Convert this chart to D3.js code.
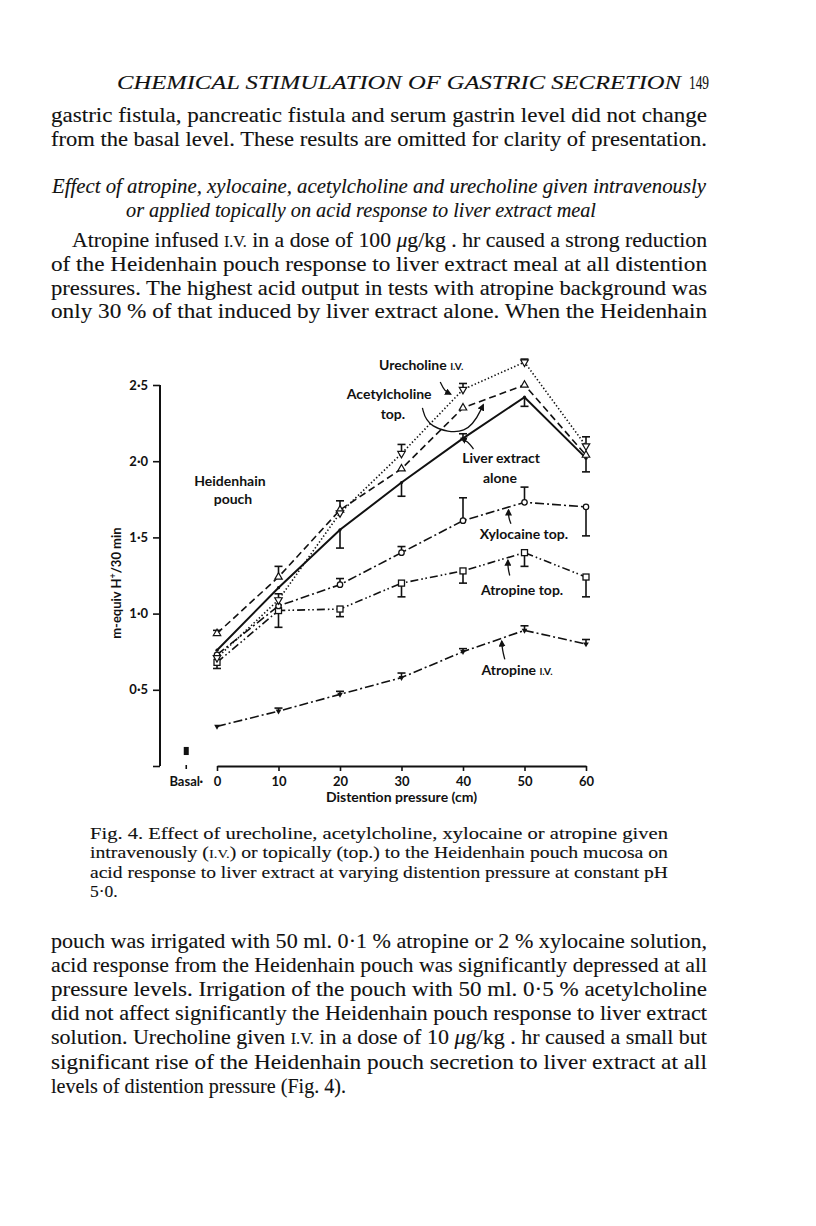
<!DOCTYPE html>
<html>
<head>
<meta charset="utf-8">
<script src="https://cdn.jsdelivr.net/npm/d3@7"></script>
<style>
  body { margin: 0; background: #fff; }
  text { fill: #111; }
  .serif { font-family: 'Liberation Serif', 'Times New Roman', serif; stroke: #111; stroke-width: 0.12px; }
  .sans { font-family: Lato, 'Open Sans', sans-serif; font-weight: 700; }
</style>
</head>
<body>
<svg width="816" height="1226"></svg>
<script>
// distention pressure (cm)
var pressure = [0, 10, 20, 30, 40, 50, 60];

// acid output, m-equiv H+/30 min
var liverExtract   = [0.76, 1.17, 1.55, 1.86, 2.15, 2.42, 2.02];
var liverErr       = [null, null, 1.43, 1.77, 2.18, 2.36, 1.93];
var acetylTop      = [0.87, 1.24, 1.68, 1.95, 2.35, 2.50, 2.04];
var acetylErr      = [0.89, 1.31, null, null, null, null, null];
var urecholineIV   = [0.71, 1.09, 1.66, 2.05, 2.47, 2.65, 2.10];
var urecholineErr  = [null, 1.13, 1.74, 2.11, 2.51, 2.67, 2.16];
var xylocaineTop   = [0.73, 1.05, 1.19, 1.40, 1.61, 1.73, 1.70];
var xylocaineErr   = [null, null, 1.23, 1.44, 1.76, 1.83, 1.51];
var atropineTop    = [0.68, 1.02, 1.03, 1.20, 1.28, 1.40, 1.24];
var atropineTopErr = [0.64, 0.91, 0.98, 1.11, 1.20, 1.31, 1.11];
var atropineIV     = [0.26, 0.36, 0.47, 0.58, 0.75, 0.89, 0.80];
var atropineIVErr  = [null, 0.38, 0.49, 0.61, 0.77, 0.92, 0.83];

var basalValue = [0.10];
var basalErr = [0.125, 0.072];

var yTicks = [0, 0.5, 1.0, 1.5, 2.0, 2.5];
var xTicks = [0, 10, 20, 30, 40, 50, 60];

var series = [
  {name: "atropineIV", values: atropineIV, err: atropineIVErr, dash: "9,3,2,3", marker: "tick"},
  {name: "atropineTop", values: atropineTop, err: atropineTopErr, dash: "8,3,1.6,2.6,1.6,3", marker: "square"},
  {name: "xylocaineTop", values: xylocaineTop, err: xylocaineErr, dash: "9,3,2,3", marker: "circle"},
  {name: "liverExtract", values: liverExtract, err: liverErr, dash: null, marker: "dot"},
  {name: "acetylTop", values: acetylTop, err: acetylErr, dash: "7,4", marker: "triangle"},
  {name: "urecholineIV", values: urecholineIV, err: urecholineErr, dash: "1.4,2.2", marker: "nabla"}
];

// labels in data units
var labels = [
  {text: "Urecholine ", small: "I.V.", x: 33.2, y: 2.60},
  {text: "Acetylcholine", x: 28.0, y: 2.41},
  {text: "top.", x: 28.6, y: 2.28},
  {text: "Liver extract", x: 46.2, y: 1.99},
  {text: "alone", x: 46.0, y: 1.86},
  {text: "Heidenhain", x: 2.1, y: 1.84},
  {text: "pouch", x: 2.6, y: 1.72},
  {text: "Xylocaine top.", x: 49.9, y: 1.49},
  {text: "Atropine top.", x: 49.6, y: 1.12},
  {text: "Atropine ", small: "I.V.", x: 48.8, y: 0.60}
];

var arrows = [
  {pts: [[36.3, 2.52], [37.0, 2.46], [38.0, 2.44]]},
  {pts: [[33.4, 2.35], [34.2, 2.22], [40.8, 2.16], [43.3, 2.37]]},
  {pts: [[41.7, 2.08], [40.8, 2.13], [39.7, 2.15]]},
  {pts: [[47.8, 1.59], [47.4, 1.63], [47.4, 1.68]]},
  {pts: [[47.6, 1.25], [47.3, 1.30], [47.3, 1.35]]},
  {pts: [[46.8, 0.70], [46.4, 0.76], [46.3, 0.82]]}
];

var svg = d3.select("svg");

svg.append("rect").attr("width", 816).attr("height", 1226).attr("fill", "#fff");

var x = d3.scaleLinear().domain([0, 60]).range([217, 586]);
var y = d3.scaleLinear().domain([0, 2.5]).range([766, 385]);
var axisX = 160;

var chart = svg.append("g").attr("class", "chart");

// y axis
var yAxis = d3.axisLeft(y)
  .tickValues(yTicks)
  .tickSize(7)
  .tickPadding(5)
  .tickFormat(function(d) { return d === 0 ? "" : d3.format(".1f")(d).replace(".", "·"); });

chart.append("g")
  .attr("transform", "translate(" + axisX + ",0)")
  .call(yAxis)
  .call(function(g) {
    g.select(".domain").remove();
    g.selectAll(".tick line").attr("stroke", "#111").attr("stroke-width", 1.6);
    g.selectAll(".tick text").attr("class", "sans").attr("font-size", 13).attr("fill", "#111");
  });

chart.append("line")
  .attr("x1", axisX).attr("x2", axisX)
  .attr("y1", y(0)).attr("y2", y(2.5))
  .attr("stroke", "#111").attr("stroke-width", 2);

// x axis
var xAxis = d3.axisBottom(x)
  .tickValues(xTicks)
  .tickSize(5)
  .tickPadding(6)
  .tickSizeOuter(0);

chart.append("g")
  .attr("transform", "translate(0," + y(0) + ")")
  .call(xAxis)
  .call(function(g) {
    g.select(".domain").attr("stroke", "#111").attr("stroke-width", 2);
    g.selectAll(".tick line").attr("stroke", "#111").attr("stroke-width", 1.6);
    g.selectAll(".tick text").attr("class", "sans").attr("font-size", 13).attr("fill", "#111");
  });

// basal
var basalX = x(-5);
chart.append("text")
  .attr("class", "sans")
  .attr("x", basalX).attr("y", y(0) + 20)
  .attr("text-anchor", "middle")
  .attr("font-size", 13)
  .text("Basal·");
chart.append("line")
  .attr("x1", basalX).attr("x2", basalX)
  .attr("y1", y(0) - 1).attr("y2", y(0) + 3)
  .attr("stroke", "#111").attr("stroke-width", 1.6);
chart.selectAll(".basal")
  .data(basalValue)
  .enter().append("rect")
  .attr("class", "basal")
  .attr("x", basalX - 2.5)
  .attr("y", y(basalErr[0]))
  .attr("width", 5)
  .attr("height", y(basalErr[1]) - y(basalErr[0]))
  .attr("fill", "#111");

chart.append("text")
  .attr("class", "sans")
  .attr("x", x(30)).attr("y", y(0) + 36)
  .attr("text-anchor", "middle")
  .attr("font-size", 14)
  .text("Distention pressure (cm)");

var yl = chart.append("text")
  .attr("class", "sans")
  .attr("transform", "translate(121," + y(1.2) + ") rotate(-90)")
  .attr("text-anchor", "middle")
  .attr("font-size", 13);
yl.append("tspan").text("m-equiv H");
yl.append("tspan").attr("font-size", 9).attr("dy", -5).text("+");
yl.append("tspan").attr("dy", 5).text("/30 min");

// lines
var line = d3.line()
  .x(function(d) { return x(d.x); })
  .y(function(d) { return y(d.v); });

function points(s) {
  return s.values.map(function(v, i) { return {x: pressure[i], v: v, e: s.err[i]}; });
}

chart.selectAll(".series")
  .data(series)
  .enter().append("path")
  .attr("class", "series")
  .attr("d", function(s) { return line(points(s)); })
  .attr("fill", "none")
  .attr("stroke", "#111")
  .attr("stroke-width", function(s) { return s.dash ? 1.6 : 2; })
  .attr("stroke-dasharray", function(s) { return s.dash; });

// error bars
series.forEach(function(s) {
  var pts = points(s).filter(function(d) { return d.e !== null; });
  var g = chart.append("g").attr("class", "err");
  g.selectAll("line.bar").data(pts).enter().append("line")
    .attr("class", "bar")
    .attr("x1", function(d) { return x(d.x); })
    .attr("x2", function(d) { return x(d.x); })
    .attr("y1", function(d) { return y(d.v); })
    .attr("y2", function(d) { return y(d.e); })
    .attr("stroke", "#111").attr("stroke-width", 1.6);
  g.selectAll("line.cap").data(pts).enter().append("line")
    .attr("class", "cap")
    .attr("x1", function(d) { return x(d.x) - 4; })
    .attr("x2", function(d) { return x(d.x) + 4; })
    .attr("y1", function(d) { return y(d.e); })
    .attr("y2", function(d) { return y(d.e); })
    .attr("stroke", "#111").attr("stroke-width", 1.6);
});

// markers
var triUp = d3.symbol().type(d3.symbolTriangle).size(24);
series.forEach(function(s) {
  var g = chart.append("g").attr("class", "markers");
  var sel = g.selectAll(".m").data(points(s)).enter();
  if (s.marker === "circle") {
    sel.append("circle")
      .attr("cx", function(d) { return x(d.x); })
      .attr("cy", function(d) { return y(d.v); })
      .attr("r", 2.7)
      .attr("fill", "#fff").attr("stroke", "#111").attr("stroke-width", 1.3);
  } else if (s.marker === "square") {
    sel.append("rect")
      .attr("x", function(d) { return x(d.x) - 3; })
      .attr("y", function(d) { return y(d.v) - 3; })
      .attr("width", 6).attr("height", 6)
      .attr("fill", "#fff").attr("stroke", "#111").attr("stroke-width", 1.3);
  } else if (s.marker === "triangle" || s.marker === "nabla") {
    sel.append("path")
      .attr("d", triUp)
      .attr("transform", function(d) {
        return "translate(" + x(d.x) + "," + y(d.v) + ")" + (s.marker === "nabla" ? " rotate(180)" : "");
      })
      .attr("fill", "#fff").attr("stroke", "#111").attr("stroke-width", 1.2);
  } else if (s.marker === "tick") {
    sel.append("path")
      .attr("d", d3.symbol().type(d3.symbolTriangle).size(14))
      .attr("transform", function(d) { return "translate(" + x(d.x) + "," + y(d.v) + ") rotate(180)"; })
      .attr("fill", "#111");
  } else {
    sel.append("circle")
      .attr("cx", function(d) { return x(d.x); })
      .attr("cy", function(d) { return y(d.v); })
      .attr("r", 1.6)
      .attr("fill", "#111");
  }
});

// labels
labels.forEach(function(l) {
  var t = chart.append("text")
    .attr("class", "sans")
    .attr("x", x(l.x)).attr("y", y(l.y))
    .attr("text-anchor", "middle")
    .attr("font-size", 14)
    .text(l.text);
  if (l.small) t.append("tspan").attr("font-size", 10).text(l.small);
});

// arrows
var curve = d3.line()
  .x(function(p) { return x(p[0]); })
  .y(function(p) { return y(p[1]); })
  .curve(d3.curveBasis);

svg.append("defs").append("marker")
  .attr("id", "head")
  .attr("viewBox", "0 0 10 10")
  .attr("refX", 8).attr("refY", 5)
  .attr("markerWidth", 7).attr("markerHeight", 7)
  .attr("markerUnits", "userSpaceOnUse")
  .attr("orient", "auto")
  .append("path").attr("d", "M0,0L10,5L0,10z").attr("fill", "#111");

chart.selectAll(".arrow")
  .data(arrows)
  .enter().append("path")
  .attr("class", "arrow")
  .attr("d", function(a) { return curve(a.pts); })
  .attr("fill", "none")
  .attr("stroke", "#111")
  .attr("stroke-width", 1.3)
  .attr("marker-end", "url(#head)");

// page text
var headerLine = {text: "CHEMICAL STIMULATION OF GASTRIC SECRETION", x: 117, y: 89, w: 564};
var pageNo = "149";

var bodyTop = [
  [["gastric fistula, pancreatic fistula and serum gastrin level did not change"]],
  [["from the basal level. These results are omitted for clarity of presentation."]]
];
var subhead = [
  "Effect of atropine, xylocaine, acetylcholine and urecholine given intravenously",
  "or applied topically on acid response to liver extract meal"
];
var bodyMid = [
  [["Atropine infused "], ["I.V.", "sc"], [" in a dose of 100 "], ["μ", "it"], ["g/kg . hr caused a strong reduction"]],
  [["of the Heidenhain pouch response to liver extract meal at all distention"]],
  [["pressures. The highest acid output in tests with atropine background was"]],
  [["only 30 % of that induced by liver extract alone. When the Heidenhain"]]
];
var caption = [
  [["Fig. 4. Effect of urecholine, acetylcholine, xylocaine or atropine given"]],
  [["intravenously ("], ["I.V.", "sc"], [") or topically (top.) to the Heidenhain pouch mucosa on"]],
  [["acid response to liver extract at varying distention pressure at constant pH"]],
  [["5·0."]]
];
var bodyEnd = [
  [["pouch was irrigated with 50 ml. 0·1 % atropine or 2 % xylocaine solution,"]],
  [["acid response from the Heidenhain pouch was significantly depressed at all"]],
  [["pressure levels. Irrigation of the pouch with 50 ml. 0·5 % acetylcholine"]],
  [["did not affect significantly the Heidenhain pouch response to liver extract"]],
  [["solution. Urecholine given "], ["I.V.", "sc"], [" in a dose of 10 "], ["μ", "it"], ["g/kg . hr caused a small but"]],
  [["significant rise of the Heidenhain pouch secretion to liver extract at all"]],
  [["levels of distention pressure (Fig. 4)."]]
];

var page = svg.append("g").attr("class", "page");

function writeLine(parts, x0, yy, w, size, italic) {
  var t = page.append("text")
    .attr("class", "serif")
    .attr("x", x0).attr("y", yy)
    .attr("font-size", size)
    .attr("font-style", italic ? "italic" : null);
  if (w) t.attr("textLength", w).attr("lengthAdjust", "spacingAndGlyphs");
  parts.forEach(function(p) {
    var ts = t.append("tspan").text(p[0]);
    if (p[1] === "sc") ts.attr("font-size", size * 0.74);
    if (p[1] === "it") ts.attr("font-style", "italic");
  });
  return t;
}

writeLine([[headerLine.text]], headerLine.x, headerLine.y, headerLine.w, 18, true);
writeLine([[pageNo]], 689, headerLine.y, 20, 19, false);

bodyTop.forEach(function(p, i) { writeLine(p, 51, 122 + i * 23.5, 656, 22, false); });
writeLine([[subhead[0]]], 52, 193, 654, 22, true);
writeLine([[subhead[1]]], 126, 217, 470, 22, true);
bodyMid.forEach(function(p, i) {
  writeLine(p, i === 0 ? 72 : 51, 247 + i * 23.8, i === 0 ? 635 : 656, 22, false);
});
caption.forEach(function(p, i) {
  writeLine(p, 90, 839 + i * 19.3, i < 3 ? 578 : null, 17.5, false);
});
bodyEnd.forEach(function(p, i) {
  writeLine(p, 51, 948 + i * 24.1, i < 6 ? 656 : 295, 22, false);
});
</script>
</body>
</html>
